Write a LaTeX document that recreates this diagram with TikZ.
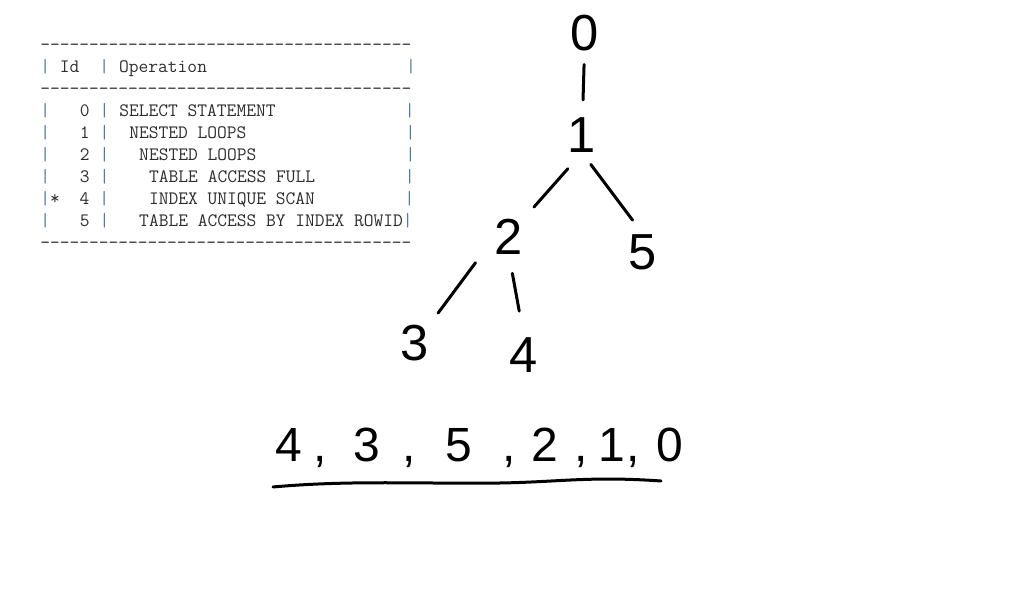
\documentclass[tikz,border=0pt]{standalone}
\usepackage{fontspec}
\newfontfamily\mainfont{Liberation Sans}
\definecolor{texteplan}{RGB}{45,45,45}
\definecolor{barreplan}{RGB}{80,120,160}

\newcount\nbtirets
\newcommand\tirets{\nbtirets=0 \loop -{}\advance\nbtirets by 1 \ifnum\nbtirets<38 \repeat}
\newcommand\barre{\textcolor{barreplan}{|}}
\newcommand\blancs[1]{\hspace{#1\dimexpr 0.525em\relax}}

\begin{document}
\begin{tikzpicture}[
       x=0.75pt, y=-0.75pt,
       chiffre/.style={
         inner sep=0pt,
         font=\mainfont\fontsize{38}{40}\selectfont
       },
       ligne/.style={
         anchor=base west,
         inner sep=0pt,
         text=texteplan,
         font=\ttfamily\fontsize{14.22}{17}\selectfont
       },
       trait/.style={
         line width=2.25pt,
         line cap=round
       }
     ]
       \useasboundingbox (0,0) rectangle (1011,598);

       % plan d'execution
       \node (l0) at (40,51) [ligne]{\tirets};
       \node (l1) at (40,73) [ligne]{\barre\blancs{1}Id\blancs{2}\barre\blancs{1}Operation\blancs{20}\barre};
       \node (l2) at (40,95) [ligne]{\tirets};
       \node (l3) at (40,117)[ligne]{\barre\blancs{3}0\blancs{1}\barre\blancs{1}SELECT STATEMENT\blancs{13}\barre};
       \node (l4) at (40,139)[ligne]{\barre\blancs{3}1\blancs{1}\barre\blancs{2}NESTED LOOPS\blancs{16}\barre};
       \node (l5) at (40,161)[ligne]{\barre\blancs{3}2\blancs{1}\barre\blancs{3}NESTED LOOPS\blancs{15}\barre};
       \node (l6) at (40,183)[ligne]{\barre\blancs{3}3\blancs{1}\barre\blancs{4}TABLE ACCESS FULL\blancs{9}\barre};
       \node (l7) at (40,205)[ligne]{\barre*\blancs{2}4\blancs{1}\barre\blancs{4}INDEX UNIQUE SCAN\blancs{9}\barre};
       \node (l8) at (40,227)[ligne]{\barre\blancs{3}5\blancs{1}\barre\blancs{3}TABLE ACCESS BY INDEX ROWID\barre};
       \node (l9) at (40,249)[ligne]{\tirets};

       % arbre
       \node (c0) at (585,33) [chiffre]{0};
       \node (c1) at (582,135)[chiffre]{1};
       \node (c2) at (509,237)[chiffre]{2};
       \node (c5) at (643,252)[chiffre]{5};
       \node (c3) at (415,343)[chiffre]{3};
       \node (c4) at (524,355)[chiffre]{4};

       \draw[trait, shorten <=10pt, shorten >=13pt] (c0) -- (c1);
       \draw[trait, shorten <=16pt, shorten >=12pt] (c1.south) -- (c2.north east);
       \draw[trait, shorten <=11pt, shorten >=13pt] (c1.south) -- (c5.north);
       \draw[trait, shorten <=24pt, shorten >=11pt] (c2.west) -- (c3.north east);
       \draw[trait, shorten <=14pt, shorten >=20pt] (c2.south) -- (c4.north);

       % ordre d'execution
       \node (ordre) at (275,462) [chiffre, anchor=base west, font=\mainfont\fontsize{36}{38}\selectfont]
         {4\hspace{9pt},\hspace{19.5pt}3\hspace{17.25pt},\hspace{21.75pt}5\hspace{23.25pt},\hspace{11.25pt}2\hspace{12pt},\hspace{8pt}1\hspace{1.5pt},\hspace{12pt}0};
       \draw[trait] (273,487) .. controls (350,480) and (420,484) .. (500,483)
                          .. controls (560,482) and (590,476) .. (661,481);

\end{tikzpicture}
\end{document}
